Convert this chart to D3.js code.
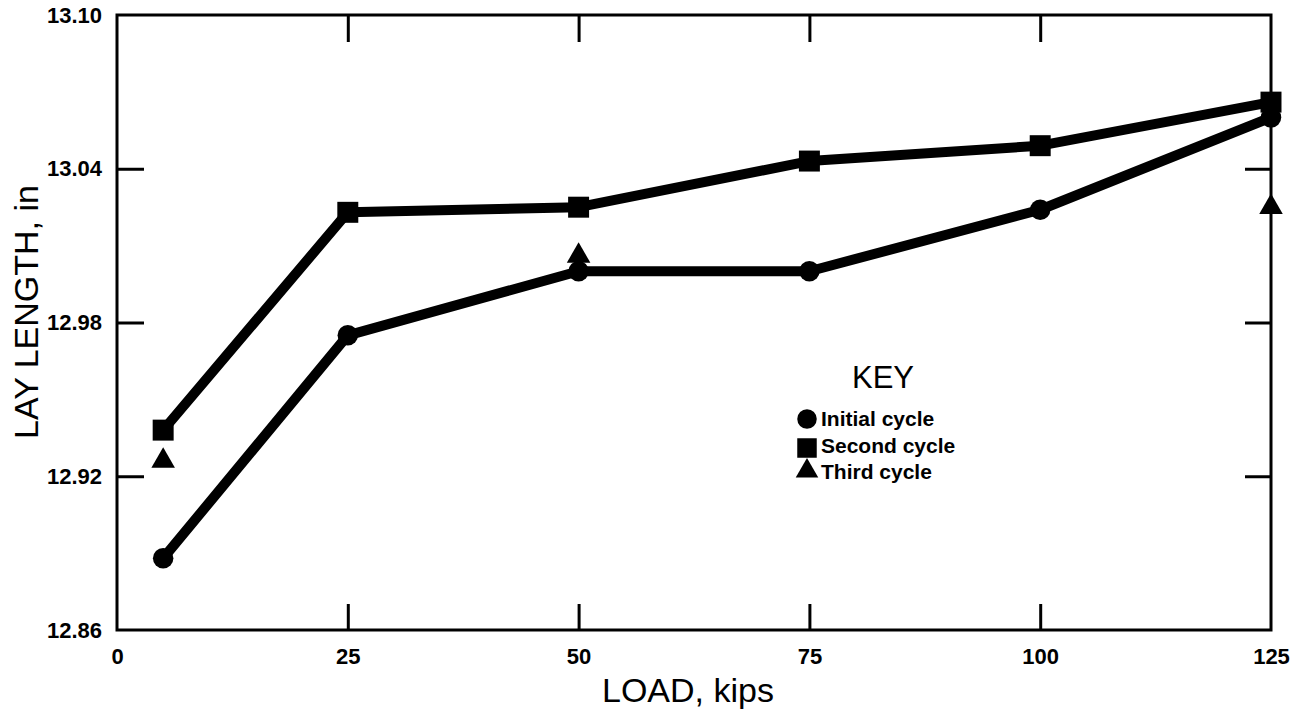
<!DOCTYPE html>
<html>
<head>
<meta charset="utf-8">
<script src="https://cdn.jsdelivr.net/npm/d3@7"></script>
<style>
  html, body { margin: 0; padding: 0; background: #fff; }
  svg { display: block; }
</style>
</head>
<body>
<svg id="chart" width="1298" height="710"></svg>
<script>
// ---- data ----
const xTicks = [0, 25, 50, 75, 100, 125];
const yTicks = [12.86, 12.92, 12.98, 13.04, 13.10];

const initialLoad  = [5, 25, 50, 75, 100, 125];
const initialValue = [12.888, 12.975, 13.000, 13.000, 13.024, 13.060];

const secondLoad  = [5, 25, 50, 75, 100, 125];
const secondValue = [12.938, 13.023, 13.025, 13.043, 13.049, 13.066];

const thirdLoad  = [5, 50, 125];
const thirdValue = [12.926, 13.006, 13.025];

const legendLabels = ["Initial cycle", "Second cycle", "Third cycle"];

// ---- layout ----
const svg = d3.select("#chart");
const L = 117, R = 1271, T = 15, B = 630;
const x = d3.scaleLinear().domain([0, 125]).range([L, R]);
const y = d3.scaleLinear().domain([12.86, 13.10]).range([B, T]);

const tickFont = "'Liberation Sans', Arial, Helvetica, sans-serif";

// frame
svg.append("rect")
  .attr("x", L).attr("y", T).attr("width", R - L).attr("height", B - T)
  .attr("fill", "none").attr("stroke", "#000").attr("stroke-width", 3);

function styleAxis(g) {
  g.select(".domain").remove();
  g.selectAll(".tick line").attr("stroke", "#000").attr("stroke-width", 3);
  g.selectAll(".tick text")
    .attr("fill", "#000")
    .style("font-family", tickFont)
    .style("font-weight", "bold")
    .style("font-size", "22px");
}

const innerX = xTicks.filter(d => d > 0 && d < 125);
const innerY = yTicks.filter(d => d > 12.86 && d < 13.10);

// bottom axis: labels + inward ticks
const gB = svg.append("g").attr("transform", `translate(0,${B})`)
  .call(d3.axisBottom(x).tickValues(xTicks).tickFormat(d3.format("d"))
    .tickSizeInner(-26).tickSizeOuter(0).tickPadding(18));
gB.selectAll(".tick").filter(d => d === 0 || d === 125).select("line").remove();
styleAxis(gB);

// top axis: inward ticks only
const gT = svg.append("g").attr("transform", `translate(0,${T})`)
  .call(d3.axisTop(x).tickValues(innerX).tickFormat("")
    .tickSizeInner(-27).tickSizeOuter(0));
styleAxis(gT);

// left axis
const gL = svg.append("g").attr("transform", `translate(${L},0)`)
  .call(d3.axisLeft(y).tickValues(yTicks).tickFormat(d3.format(".2f"))
    .tickSizeInner(-27).tickSizeOuter(0).tickPadding(15));
gL.selectAll(".tick").filter(d => d === 12.86 || d === 13.10).select("line").remove();
styleAxis(gL);

// right axis
const gR = svg.append("g").attr("transform", `translate(${R},0)`)
  .call(d3.axisRight(y).tickValues(innerY).tickFormat("")
    .tickSizeInner(-26).tickSizeOuter(0));
styleAxis(gR);

// axis titles
svg.append("text")
  .attr("x", 688).attr("y", 702)
  .attr("text-anchor", "middle")
  .style("font-family", tickFont).style("font-size", "34px")
  .text("LOAD, kips");

svg.append("text")
  .attr("transform", "translate(38,312) rotate(-90)")
  .attr("text-anchor", "middle")
  .style("font-family", tickFont).style("font-size", "34px")
  .text("LAY LENGTH, in");

// ---- series ----
const line = d3.line().x(d => x(d[0])).y(d => y(d[1]));
const initial = initialLoad.map((d, i) => [d, initialValue[i]]);
const second = secondLoad.map((d, i) => [d, secondValue[i]]);
const third = thirdLoad.map((d, i) => [d, thirdValue[i]]);

[initial, second].forEach(data => {
  svg.append("path").datum(data)
    .attr("d", line)
    .attr("fill", "none").attr("stroke", "#000")
    .attr("stroke-width", 10).attr("stroke-linejoin", "round");
});

const circleSym = d3.symbol().type(d3.symbolCircle).size(330);
const squareSym = d3.symbol().type(d3.symbolSquare).size(440);
const triSym = d3.symbol().type(d3.symbolTriangle).size(240);

svg.selectAll(".m-init").data(initial).enter().append("path")
  .attr("d", circleSym).attr("fill", "#000")
  .attr("transform", d => `translate(${x(d[0])},${y(d[1])})`);
svg.selectAll(".m-sec").data(second).enter().append("path")
  .attr("d", squareSym).attr("fill", "#000")
  .attr("transform", d => `translate(${x(d[0])},${y(d[1])})`);
svg.selectAll(".m-third").data(third).enter().append("path")
  .attr("d", triSym).attr("fill", "#000")
  .attr("transform", d => `translate(${x(d[0])},${y(d[1])})`);

// ---- legend ----
svg.append("text")
  .attr("x", 883).attr("y", 388)
  .attr("text-anchor", "middle")
  .style("font-family", tickFont).style("font-size", "31px")
  .text("KEY");

const legendSyms = [
  d3.symbol().type(d3.symbolCircle).size(300),
  d3.symbol().type(d3.symbolSquare).size(380),
  d3.symbol().type(d3.symbolTriangle).size(220)
];
const legendY = [419, 448, 471];
const legendBase = [426, 453, 479];
legendLabels.forEach((lab, i) => {
  svg.append("path").attr("d", legendSyms[i]()).attr("fill", "#000")
    .attr("transform", `translate(807,${legendY[i]})`);
  svg.append("text")
    .attr("x", 821).attr("y", legendBase[i])
    .style("font-family", tickFont).style("font-weight", "bold")
    .style("font-size", "21px")
    .text(lab);
});
</script>
</body>
</html>
